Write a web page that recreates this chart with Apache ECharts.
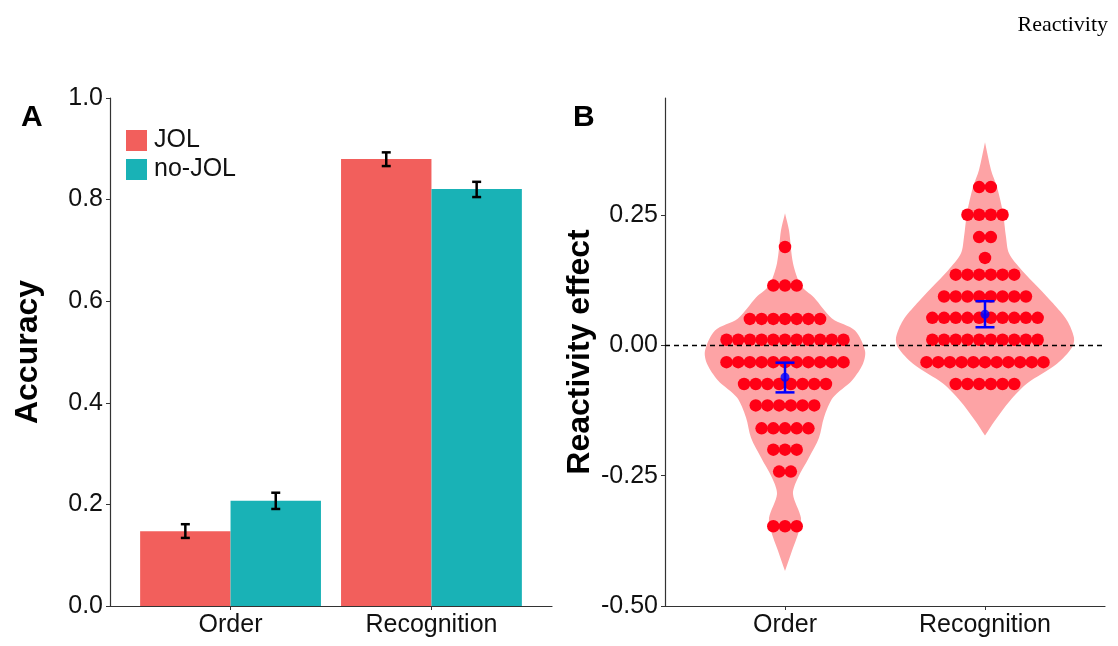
<!DOCTYPE html>
<html><head><meta charset="utf-8">
<script src="https://cdn.jsdelivr.net/npm/echarts@6/dist/echarts.min.js"></script>
<style>html,body{margin:0;padding:0;background:#fff}#c{width:1118px;height:646px}</style>
</head><body><div id="c"></div>
<script>
// ---------- DATA ----------
const categories = ['Order', 'Recognition'];
const groups = ['JOL', 'no-JOL'];
const accJOL = [0.147, 0.880];
const accNoJOL = [0.207, 0.821];
const errJOL = [[0.134, 0.161], [0.866, 0.893]];
const errNoJOL = [[0.191, 0.223], [0.805, 0.835]];
const accTicks = [0, 0.2, 0.4, 0.6, 0.8, 1.0];
const effTicks = [-0.5, -0.25, 0, 0.25];

// dotplot rows: [bin value, number of dots]
const dotsOrder = [[0.189,1],[0.115,3],[0.051,7],[0.011,11],[-0.032,11],[-0.074,8],[-0.115,6],[-0.159,5],[-0.200,3],[-0.242,2],[-0.347,3]];
const dotsRecog = [[0.304,2],[0.251,4],[0.208,2],[0.168,1],[0.136,6],[0.094,8],[0.053,10],[0.011,10],[-0.032,11],[-0.074,6]];

// violin outlines: [value, half-width in category units]
const violinOrder = [[0.254,0],[0.221,0.02],[0.158,0.04],[0.115,0.08],[0.092,0.145],[0.052,0.235],[0.029,0.35],[-0.010,0.40],[-0.035,0.39],[-0.067,0.335],[-0.100,0.24],[-0.138,0.195],[-0.177,0.17],[-0.215,0.12],[-0.254,0.065],[-0.285,0.04],[-0.331,0.08],[-0.356,0.07],[-0.394,0.035],[-0.433,0]];
const violinRecog = [[0.390,0],[0.337,0.03],[0.304,0.06],[0.254,0.09],[0.208,0.105],[0.177,0.12],[0.144,0.185],[0.112,0.265],[0.081,0.34],[0.048,0.41],[0.015,0.445],[-0.004,0.435],[-0.035,0.36],[-0.073,0.21],[-0.106,0.125],[-0.144,0.05],[-0.173,0]];

// mean and error of reactivity effect: [mean, low, high]
const effMean = [[-0.061, -0.090, -0.033], [0.060, 0.035, 0.085]];

// ---------- CHART ----------
const COL_JOL = '#F25F5C', COL_NO = '#19B2B6';
const DOT_STEP = 0.0585; // dot spacing in x units
const chart = echarts.init(document.getElementById('c'));
const axisColor = '#333';
const fontFam = 'Liberation Sans, Arial, sans-serif';

function xAxisCfg(gi){
  return {
    type:'value', gridIndex:gi, min:0.4, max:2.6,
    splitLine:{show:false},
    axisLine:{show:true, onZero:false, lineStyle:{color:axisColor, width:1.2}},
    axisTick:{show:true, customValues:[1,2], length:4, lineStyle:{color:axisColor}},
    axisLabel:{customValues:[1,2], formatter:v=>categories[Math.round(v)-1], color:'#111', fontSize:25, fontFamily:fontFam, margin:7}
  };
}

const barData = categories.map((c,i)=>[i+1, accJOL[i], 0]);
const barData2 = categories.map((c,i)=>[i+1, accNoJOL[i], 1]);

function barRender(params, api){
  const x = api.value(0), y = api.value(1), g = api.value(2);
  const x0 = g===0 ? x-0.45 : x;
  const p0 = api.coord([x0, y]);
  const p1 = api.coord([x0+0.45, 0]);
  return {type:'rect', shape:{x:p0[0], y:p0[1], width:p1[0]-p0[0], height:p1[1]-p0[1]}, style:{fill:api.visual('color')}};
}
function errRender(params, api){
  const x = api.value(0), lo = api.value(1), hi = api.value(2);
  const a = api.coord([x, lo]), b = api.coord([x, hi]);
  const w = 4.5;
  return {type:'group', children:[
    {type:'line', shape:{x1:a[0],y1:a[1],x2:b[0],y2:b[1]}, style:{stroke:'#000', lineWidth:2.5}},
    {type:'line', shape:{x1:a[0]-w,y1:a[1],x2:a[0]+w,y2:a[1]}, style:{stroke:'#000', lineWidth:2.5}},
    {type:'line', shape:{x1:b[0]-w,y1:b[1],x2:b[0]+w,y2:b[1]}, style:{stroke:'#000', lineWidth:2.5}}
  ]};
}
const errData = [];
categories.forEach((c,i)=>{
  errData.push([i+1-0.225, errJOL[i][0], errJOL[i][1]]);
  errData.push([i+1+0.225, errNoJOL[i][0], errNoJOL[i][1]]);
});

const violins = [violinOrder, violinRecog];
function violinRender(params, api){
  const idx = params.dataIndex;
  const cx = api.value(0);
  const outline = violins[idx];
  const right = outline.map(p=>api.coord([cx+p[1], p[0]]));
  const left = outline.slice().reverse().map(p=>api.coord([cx-p[1], p[0]]));
  return {type:'polygon', shape:{points:right.concat(left), smooth:0.3}, style:{fill:'#FDA3A5'}};
}

const dotData = [];
[dotsOrder, dotsRecog].forEach((rows,ci)=>{
  rows.forEach(([v,n])=>{
    for(let k=0;k<n;k++) dotData.push([ci+1 + (k-(n-1)/2)*DOT_STEP, v]);
  });
});

function meanErrRender(params, api){
  const x = api.value(0), lo = api.value(2), hi = api.value(3);
  const a = api.coord([x, lo]), b = api.coord([x, hi]);
  const w = 9.5;
  return {type:'group', children:[
    {type:'line', shape:{x1:a[0],y1:a[1],x2:b[0],y2:b[1]}, style:{stroke:'#0000FF', lineWidth:2.5}},
    {type:'line', shape:{x1:a[0]-w,y1:a[1],x2:a[0]+w,y2:a[1]}, style:{stroke:'#0000FF', lineWidth:2.5}},
    {type:'line', shape:{x1:b[0]-w,y1:b[1],x2:b[0]+w,y2:b[1]}, style:{stroke:'#0000FF', lineWidth:2.5}}
  ]};
}
const meanData = effMean.map((m,i)=>[i+1, m[0], m[1], m[2]]);

chart.setOption({
  animation:false,
  textStyle:{fontFamily:fontFam},
  title:[
    {text:'Reactivity', right:5, top:9, textStyle:{fontFamily:'Liberation Serif, Times New Roman, serif', fontWeight:'normal', fontSize:22, color:'#000'}},
    {text:'A', left:16, top:98, textStyle:{fontSize:30, fontWeight:'bold', color:'#000'}},
    {text:'B', left:568, top:98, textStyle:{fontSize:30, fontWeight:'bold', color:'#000'}}
  ],
  legend:{
    data:[{name:'JOL', icon:'rect'},{name:'no-JOL', icon:'rect'}],
    orient:'vertical', left:126, top:128, padding:0, itemWidth:21, itemHeight:21, itemGap:4,
    textStyle:{fontSize:25, color:'#111', padding:[0,0,0,2]},
    selectedMode:false
  },
  grid:[
    {left:110, right:566, top:98, bottom:40},
    {left:665, right:13, top:98, bottom:40}
  ],
  xAxis:[xAxisCfg(0), xAxisCfg(1)],
  yAxis:[
    {type:'value', gridIndex:0, min:0, max:1, interval:0.2,
     name:'Accuracy', nameLocation:'middle', nameGap:66, nameTextStyle:{fontSize:32, fontWeight:'bold', color:'#000'},
     splitLine:{show:false},
     axisLine:{show:true, lineStyle:{color:axisColor, width:1.2}},
     axisTick:{show:true, length:4, lineStyle:{color:axisColor}},
     axisLabel:{formatter:v=>v.toFixed(1), color:'#111', fontSize:25, margin:7}},
    {type:'value', gridIndex:1, min:-0.5, max:0.475, interval:0.25,
     name:'Reactivity effect', nameLocation:'middle', nameGap:69, nameTextStyle:{fontSize:32, fontWeight:'bold', color:'#000'},
     splitLine:{show:false},
     axisLine:{show:true, lineStyle:{color:axisColor, width:1.2}},
     axisTick:{show:true, length:4, lineStyle:{color:axisColor}},
     axisLabel:{formatter:v=>v.toFixed(2), color:'#111', fontSize:25, margin:7,
       showMaxLabel:false}}
  ],
  series:[
    {name:'JOL', type:'custom', xAxisIndex:0, yAxisIndex:0, renderItem:barRender, data:barData, itemStyle:{color:COL_JOL}, z:2},
    {name:'no-JOL', type:'custom', xAxisIndex:0, yAxisIndex:0, renderItem:barRender, data:barData2, itemStyle:{color:COL_NO}, z:2},
    {type:'custom', xAxisIndex:0, yAxisIndex:0, renderItem:errRender, data:errData, z:3},
    {type:'custom', xAxisIndex:1, yAxisIndex:1, renderItem:violinRender, data:[[1,0],[2,0]], z:1, clip:false},
    {type:'scatter', xAxisIndex:1, yAxisIndex:1, data:dotData, symbolSize:12.5, itemStyle:{color:'#FF0015', opacity:1}, z:3,
     markLine:{silent:true, symbol:'none', label:{show:false}, lineStyle:{type:[5,4], color:'#000', width:1.3}, data:[{yAxis:0}]}},
    {type:'custom', xAxisIndex:1, yAxisIndex:1, renderItem:meanErrRender, data:meanData, z:4},
    {type:'scatter', xAxisIndex:1, yAxisIndex:1, data:meanData.map(d=>[d[0],d[1]]), symbolSize:9, itemStyle:{color:'#0000FF'}, z:5}
  ]
});
</script></body></html>
